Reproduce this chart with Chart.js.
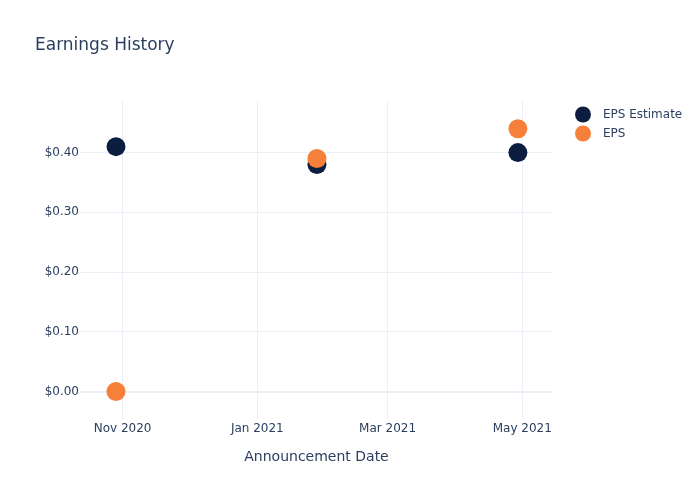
<!DOCTYPE html>
<html>
<head>
<meta charset="utf-8">
<script src="https://cdn.jsdelivr.net/npm/chart.js@4"></script>
<style>
  html, body { margin: 0; padding: 0; background: #fff; }
  #wrap { width: 700px; height: 500px; }
</style>
</head>
<body>
<div id="wrap"><canvas id="eps-chart"></canvas></div>
<script>
var dates = ['2020-10-29', '2021-01-28', '2021-04-29'];
var epsEstimate = [0.41, 0.38, 0.40];
var epsActual = [0.00, 0.39, 0.44];
var xTickDates = ['2020-11-01', '2021-01-01', '2021-03-01', '2021-05-01'];
var xTickLabels = ['Nov 2020', 'Jan 2021', 'Mar 2021', 'May 2021'];
var yTicks = [0, 0.1, 0.2, 0.3, 0.4];

var textColor = '#2a3f5f';
var gridColor = '#ebf0f8';
var navy = '#0c1e40';
var orange = '#f6803a';

function toTime(s) { return Date.parse(s + 'T00:00:00Z'); }
var DAY = 86400000;

function points(values) {
  return values.map(function(v, i) {
    return { x: toTime(dates[i]), y: v };
  });
}

var legendItems = [
  { label: 'EPS Estimate', color: navy },
  { label: 'EPS', color: orange }
];

var sideLegend = {
  id: 'sideLegend',
  afterDraw: function(chart) {
    var c = chart.ctx;
    c.save();
    c.font = '12px "DejaVu Sans"';
    c.textBaseline = 'middle';
    legendItems.forEach(function(item, i) {
      var y = 114.5 + i * 19;
      c.fillStyle = item.color;
      c.beginPath();
      c.arc(583, y, 8, 0, Math.PI * 2);
      c.fill();
      c.fillStyle = textColor;
      c.fillText(item.label, 603, y);
    });
    c.restore();
  }
};

var ctx = document.getElementById('eps-chart');

var epsChart = new Chart(ctx, {
  type: 'scatter',
  data: {
    datasets: [{
      label: 'EPS Estimate',
      data: points(epsEstimate),
      backgroundColor: navy,
      borderWidth: 0,
      pointRadius: 9.5,
      pointHoverRadius: 9.5,
      order: 1
    }, {
      label: 'EPS',
      data: points(epsActual),
      backgroundColor: orange,
      borderWidth: 0,
      pointRadius: 9.5,
      pointHoverRadius: 9.5,
      order: 0
    }]
  },
  options: {
    responsive: true,
    maintainAspectRatio: false,
    animation: false,
    layout: { padding: { left: 35, right: 147, top: 0, bottom: 30 } },
    plugins: {
      legend: { display: false },
      tooltip: { enabled: false },
      title: {
        display: true,
        text: 'Earnings History',
        align: 'start',
        color: textColor,
        font: { family: 'DejaVu Sans', size: 17, weight: 'normal' },
        padding: { top: 35, bottom: 45 }
      }
    },
    scales: {
      x: {
        type: 'linear',
        min: toTime('2020-11-01') - 19.3 * DAY,
        max: toTime('2020-11-01') + 194.9 * DAY,
        afterBuildTicks: function(scale) {
          scale.ticks = xTickDates.map(function(d) { return { value: toTime(d) }; });
        },
        ticks: {
          color: textColor,
          font: { family: 'DejaVu Sans', size: 12 },
          padding: 2,
          maxRotation: 0,
          autoSkip: false,
          callback: function(value, index) { return xTickLabels[index]; }
        },
        grid: { color: gridColor, drawTicks: false },
        border: { display: false },
        title: {
          display: true,
          text: 'Announcement Date',
          color: textColor,
          font: { family: 'DejaVu Sans', size: 14 },
          padding: { top: 11, bottom: 4 }
        }
      },
      y: {
        min: -0.0473,
        max: 0.4874,
        afterFit: function(scale) { scale.width = 45; },
        afterBuildTicks: function(scale) {
          scale.ticks = yTicks.map(function(v) { return { value: v }; });
        },
        ticks: {
          color: textColor,
          font: { family: 'DejaVu Sans', size: 12 },
          padding: 1,
          callback: function(value) { return '$' + value.toFixed(2); }
        },
        grid: {
          drawTicks: false,
          color: gridColor,
          lineWidth: function(c) { return c.tick && c.tick.value === 0 ? 2 : 1; }
        },
        border: { display: false }
      }
    }
  },
  plugins: [sideLegend]
});
</script>
</body>
</html>
